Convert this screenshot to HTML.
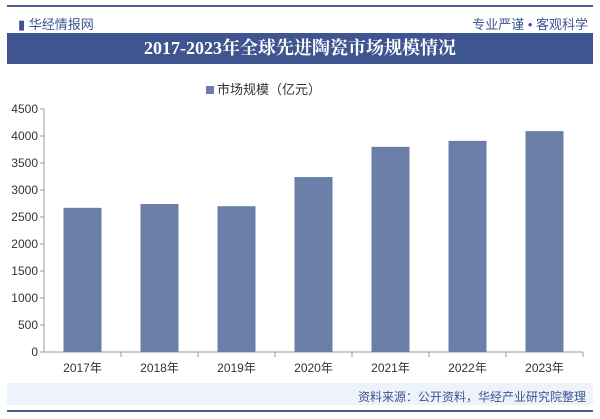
<!DOCTYPE html>
<html><head><meta charset="utf-8"><style>
body{margin:0;width:600px;height:419px;background:#fff;font-family:"Liberation Sans","Noto Sans CJK SC",sans-serif;position:relative;overflow:hidden}
.abs{position:absolute}
</style></head><body>
<div class="abs" style="left:7px;top:5px;width:586px;height:2px;background:#4a5d8f"></div>
<div class="abs" style="left:18px;top:14px;font-size:13px;color:#3d5494">▮ 华经情报网</div>
<div class="abs" style="right:12px;top:14px;font-size:13px;color:#3d5494">专业严谨 • 客观科学</div>
<div class="abs" style="left:7px;top:33px;width:586px;height:31px;background:#3f5590;color:#fff;font-family:'Liberation Serif','Noto Serif CJK SC',serif;font-weight:bold;font-size:18px;text-align:center;line-height:31px">2017-2023年全球先进陶瓷市场规模情况</div>
<div class="abs" style="left:206px;top:79px;font-size:13px;color:#333"><span style="display:inline-block;width:8px;height:8px;background:#6b7ea8;margin-right:3px"></span>市场规模（亿元）</div>
<div class="abs" style="left:7px;top:383px;width:586px;height:22px;background:#eef2f9"></div>
<div class="abs" style="right:14px;top:388px;font-size:12px;color:#3d5494">资料来源：公开资料，华经产业研究院整理</div>
<div class="abs" style="left:7px;top:410px;width:586px;height:2px;background:#4a5d8f"></div>
<svg class="abs" style="left:0;top:0" width="600" height="419" id="chart"></svg>
<script>
const categories=["2017年","2018年","2019年","2020年","2021年","2022年","2023年"];
const values=[2670,2740,2700,3240,3800,3910,4090];
const ticks=[0,500,1000,1500,2000,2500,3000,3500,4000,4500];
const svg=document.getElementById('chart');
const NS='http://www.w3.org/2000/svg';
const x0=44,x1=583,y0=352,scale=27/500;
const step=(x1-x0)/categories.length;
const y=v=>y0-v*scale;
function mk(t,a){const e=document.createElementNS(NS,t);for(const k in a)e.setAttribute(k,a[k]);svg.appendChild(e);return e;}
ticks.forEach(t=>{const e=mk('text',{x:38,y:y(t)+4,'text-anchor':'end','font-size':12,fill:'#333'});e.textContent=t;


const l=mk('line',{x1:x0-4,x2:x0,y1:y(t),y2:y(t),stroke:'#999'});

});
const ax=mk('line',{x1:x0,x2:x1,y1:y0,y2:y0,stroke:'#999'});


const ay=mk('line',{x1:x0,x2:x0,y1:y(4500),y2:y0,stroke:'#999'});


categories.forEach((c,i)=>{const cx=x0+step*(i+0.5);
const r=mk('rect',{x:cx-19,y:y(values[i]),width:38,height:values[i]*scale,fill:'#6b7ea8'});


const tk=mk('line',{x1:x0+step*(i+1),x2:x0+step*(i+1),y1:y0,y2:y0+5,stroke:'#999'});


const t=mk('text',{x:cx,y:372,'text-anchor':'middle','font-size':12,fill:'#333'});t.textContent=c;

});
</script>
</body></html>
